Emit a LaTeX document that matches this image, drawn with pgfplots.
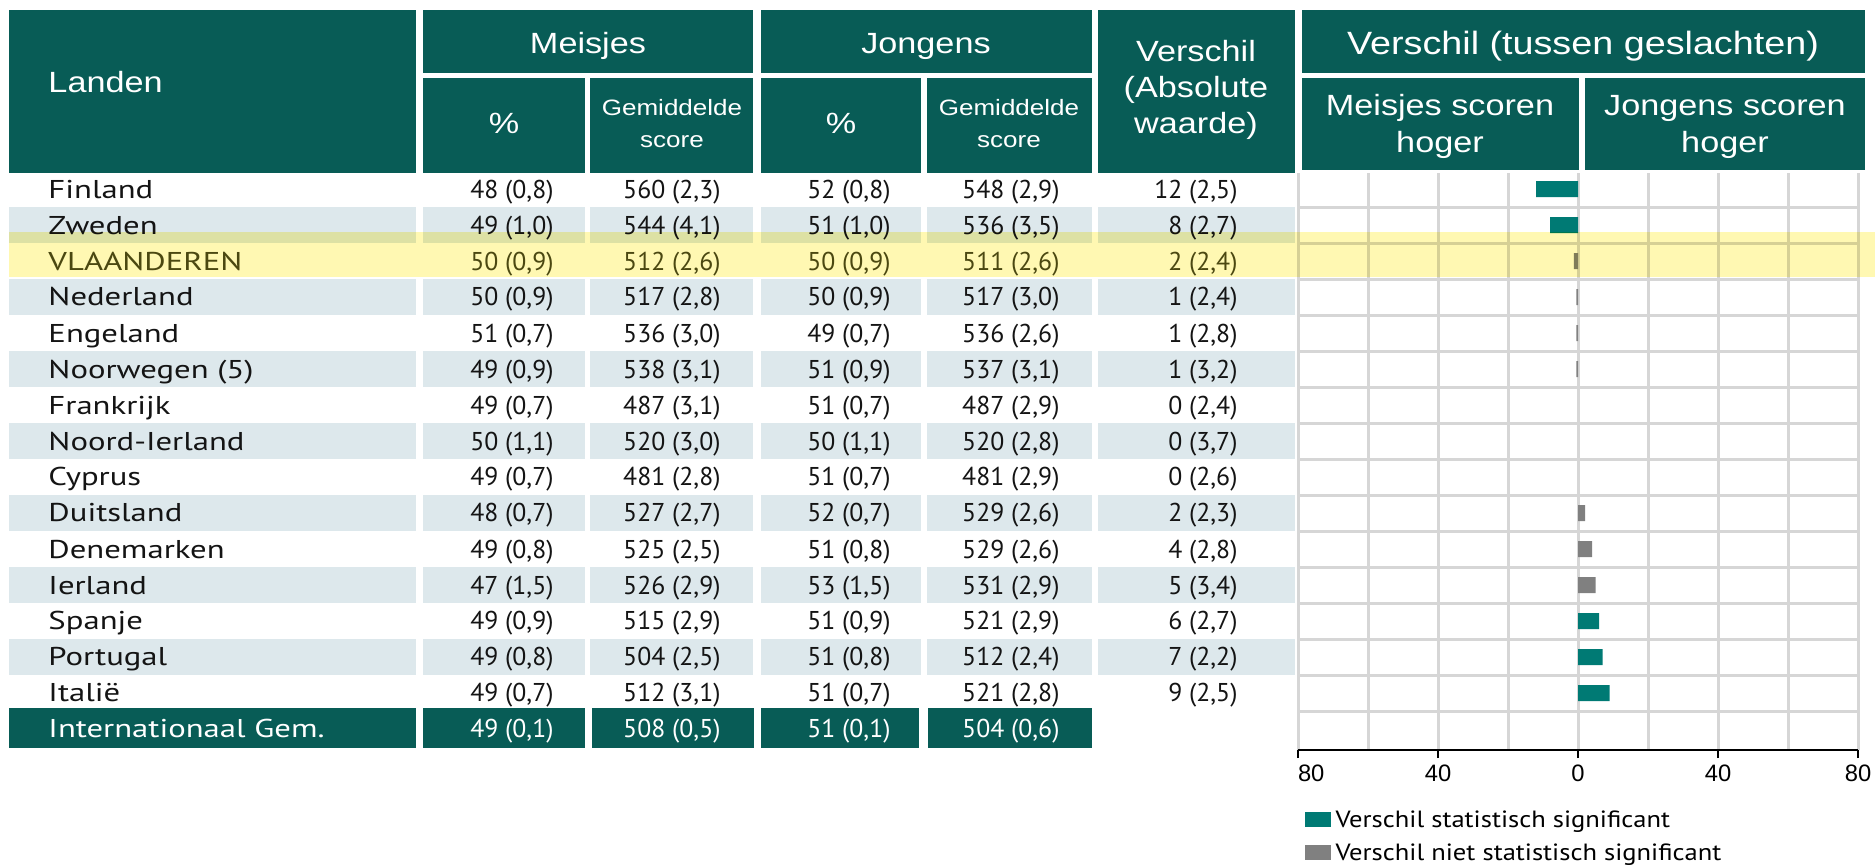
\documentclass[border=0pt]{standalone}
\usepackage{fontspec}
\usepackage{pgfplots}
\pgfplotsset{compat=1.18}
\setmainfont{PT Sans}
\newfontfamily\namefont[FakeStretch=1.27]{PT Sans}
\newfontfamily\numfont{PT Sans}
\newfontfamily\legfont[FakeStretch=1.13]{PT Sans}
\newfontfamily\hdrfont[FakeStretch=1.17]{Liberation Sans}
\newfontfamily\tickfont{Liberation Sans}
\definecolor{hdr}{RGB}{8,92,86}
\definecolor{sig}{RGB}{0,122,116}
\definecolor{nsig}{RGB}{128,128,128}
\definecolor{band}{RGB}{221,232,236}
\definecolor{hl}{RGB}{255,248,178}
\definecolor{gridc}{RGB}{214,214,214}
\definecolor{txt}{RGB}{20,20,20}
\definecolor{hltxt}{RGB}{75,75,25}
\newcommand\HS{\hdrfont\fontsize{11.7}{14}\selectfont}
\newcommand\HL{\hdrfont\fontsize{12.9}{15}\selectfont}
\newcommand\GS{\hdrfont\fontsize{8.9}{11}\selectfont}
\newcommand\NS{\namefont\fontsize{10.3}{12}\selectfont}
\newcommand\VS{\numfont\fontsize{10.3}{12}\selectfont}
\newcommand\LS{\legfont\fontsize{9.4}{11}\selectfont}
\newcommand\TS{\tickfont\fontsize{9.5}{11}\selectfont}
% row: #1 index, #2 colour, #3 name, #4..#8 values
\newcommand\trow[8]{%
  \pgfmathsetmacro\yb{198+36*#1}%
  \node[anchor=base west,inner sep=0pt,text=#2,font=\NS] at (48,\yb) {#3};
  \node[anchor=base east,inner sep=0pt,text=#2,font=\VS] at (554,\yb) {#4};
  \node[anchor=base east,inner sep=0pt,text=#2,font=\VS] at (721,\yb) {#5};
  \node[anchor=base east,inner sep=0pt,text=#2,font=\VS] at (891,\yb) {#6};
  \node[anchor=base east,inner sep=0pt,text=#2,font=\VS] at (1060,\yb) {#7};
  \node[anchor=base east,inner sep=0pt,text=#2,font=\VS] at (1238,\yb) {#8};
}
\begin{document}
\begin{tikzpicture}
\useasboundingbox (0pt,0pt) rectangle (750pt,-345.6pt);
\begin{scope}[x=0.4pt,y=-0.4pt]
  % shaded rows
  \foreach \i in {1,3,...,13}{
    \pgfmathsetmacro\ya{171+36*\i}
    \pgfmathsetmacro\yz{207+36*\i}
    \foreach \xa/\xb in {9/416,423/585,590/753,761/921,927/1092,1098/1295}{
      \fill[band] (\xa,\ya) rectangle (\xb,\yz);
    }
  }
  % header boxes
  \fill[hdr] (9,10) rectangle (416,173);
  \fill[hdr] (423,10) rectangle (753,73);
  \fill[hdr] (761,10) rectangle (1092,73);
  \fill[hdr] (423,78) rectangle (585,173);
  \fill[hdr] (590,78) rectangle (753,173);
  \fill[hdr] (761,78) rectangle (921,173);
  \fill[hdr] (927,78) rectangle (1092,173);
  \fill[hdr] (1098,10) rectangle (1295,173);
  \fill[hdr] (1302,10) rectangle (1865,73);
  \fill[hdr] (1302,78) rectangle (1579,170);
  \fill[hdr] (1585,78) rectangle (1865,170);
  % header texts
  \begin{scope}[every node/.style={inner sep=0pt,text=white}]
  \node[anchor=base west,font=\HS] at (48,92) {Landen};
  \node[anchor=base,font=\HS] at (588,53) {Meisjes};
  \node[anchor=base,font=\HS] at (926,53) {Jongens};
  \node[anchor=base,font=\HS] at (504,133) {\%};
  \node[anchor=base,font=\HS] at (841,133) {\%};
  \node[anchor=base,font=\GS] at (672,115) {Gemiddelde};
  \node[anchor=base,font=\GS] at (672,147) {score};
  \node[anchor=base,font=\GS] at (1009,115) {Gemiddelde};
  \node[anchor=base,font=\GS] at (1009,147) {score};
  \node[anchor=base,font=\HS] at (1196,61) {Verschil};
  \node[anchor=base,font=\HS] at (1196,97) {(Absolute};
  \node[anchor=base,font=\HS] at (1196,133) {waarde)};
  \node[anchor=base,font=\HL] at (1583,54) {Verschil (tussen geslachten)};
  \node[anchor=base,font=\HS] at (1440,115) {Meisjes scoren};
  \node[anchor=base,font=\HS] at (1440,152) {hoger};
  \node[anchor=base,font=\HS] at (1725,115) {Jongens scoren};
  \node[anchor=base,font=\HS] at (1725,152) {hoger};
  \end{scope}
  % table body
  \trow{0}{txt}{Finland}{48 (0,8)}{560 (2,3)}{52 (0,8)}{548 (2,9)}{12 (2,5)}
  \trow{1}{txt}{Zweden}{49 (1,0)}{544 (4,1)}{51 (1,0)}{536 (3,5)}{8 (2,7)}
  \trow{2}{hltxt}{VLAANDEREN}{50 (0,9)}{512 (2,6)}{50 (0,9)}{511 (2,6)}{2 (2,4)}
  \trow{3}{txt}{Nederland}{50 (0,9)}{517 (2,8)}{50 (0,9)}{517 (3,0)}{1 (2,4)}
  \trow{4}{txt}{Engeland}{51 (0,7)}{536 (3,0)}{49 (0,7)}{536 (2,6)}{1 (2,8)}
  \trow{5}{txt}{Noorwegen (5)}{49 (0,9)}{538 (3,1)}{51 (0,9)}{537 (3,1)}{1 (3,2)}
  \trow{6}{txt}{Frankrijk}{49 (0,7)}{487 (3,1)}{51 (0,7)}{487 (2,9)}{0 (2,4)}
  \trow{7}{txt}{Noord-Ierland}{50 (1,1)}{520 (3,0)}{50 (1,1)}{520 (2,8)}{0 (3,7)}
  \trow{8}{txt}{Cyprus}{49 (0,7)}{481 (2,8)}{51 (0,7)}{481 (2,9)}{0 (2,6)}
  \trow{9}{txt}{Duitsland}{48 (0,7)}{527 (2,7)}{52 (0,7)}{529 (2,6)}{2 (2,3)}
  \trow{10}{txt}{Denemarken}{49 (0,8)}{525 (2,5)}{51 (0,8)}{529 (2,6)}{4 (2,8)}
  \trow{11}{txt}{Ierland}{47 (1,5)}{526 (2,9)}{53 (1,5)}{531 (2,9)}{5 (3,4)}
  \trow{12}{txt}{Spanje}{49 (0,9)}{515 (2,9)}{51 (0,9)}{521 (2,9)}{6 (2,7)}
  \trow{13}{txt}{Portugal}{49 (0,8)}{504 (2,5)}{51 (0,8)}{512 (2,4)}{7 (2,2)}
  \trow{14}{txt}{Italië}{49 (0,7)}{512 (3,1)}{51 (0,7)}{521 (2,8)}{9 (2,5)}
  % international average
  \foreach \xa/\xb in {9/416,423/585,592/754,761/919,928/1092}{
    \fill[hdr] (\xa,708) rectangle (\xb,748);
  }
  \trow{15}{white}{Internationaal Gem.}{49 (0,1)}{508 (0,5)}{51 (0,1)}{504 (0,6)}{}
\end{scope}
\begin{axis}[
  at={(519.2pt,-300pt)}, anchor=south west,
  scale only axis, width=224pt, height=230.8pt,
  xmin=-80, xmax=80, ymin=-0.444, ymax=15.583, y dir=reverse,
  axis x line*=bottom, axis y line*=left,
  x axis line style={black, line width=0.8pt, -},
  y axis line style={draw=none},
  xtick={-80,-40,0,40,80},
  xticklabels={\makebox[0pt][l]{80},40,0,40,80},
  minor xtick={-60,-20,20,60},
  xmajorgrids, xminorgrids,
  major x grid style={gridc, line width=1.2pt},
  minor x grid style={gridc, line width=1.2pt},
  ytick={0.5,1.5,...,14.5}, yticklabels={}, ymajorgrids,
  major y grid style={gridc, line width=1.2pt},
  ytick style={draw=none},
  xtick style={black, line width=0.8pt},
  tick align=outside, major tick length=3.2pt, minor tick length=0pt,
  xticklabel style={font=\TS, yshift=0.6pt},
  legend style={draw=none, fill=none, at={(0.011,-0.096)}, anchor=north west,
    inner xsep=0pt, inner ysep=0pt, row sep=0.9pt, font=\LS,
    cells={anchor=west}},
  legend image code/.code={\fill[#1] (0pt,-2.4pt) rectangle (10.4pt,3.6pt);},
]
\addplot[xbar, bar width=6.4pt, bar shift=0pt, fill=sig, draw=none]
  coordinates {(-12,0) (-8,1) (6,12) (7,13) (9,14)};
\addlegendentry{Verschil statistisch significant}
\addplot[xbar, bar width=6.4pt, bar shift=0pt, fill=nsig, draw=none]
  coordinates {(-1.2,2) (-0.5,3) (-0.5,4) (-0.5,5) (2,9) (4,10) (5,11)};
\addlegendentry{Verschil niet statistisch significant}
\end{axis}
\begin{scope}[x=0.4pt,y=-0.4pt,blend mode=multiply]
  \fill[hl] (9,232) rectangle (1875,277);
\end{scope}
\end{tikzpicture}
\end{document}
